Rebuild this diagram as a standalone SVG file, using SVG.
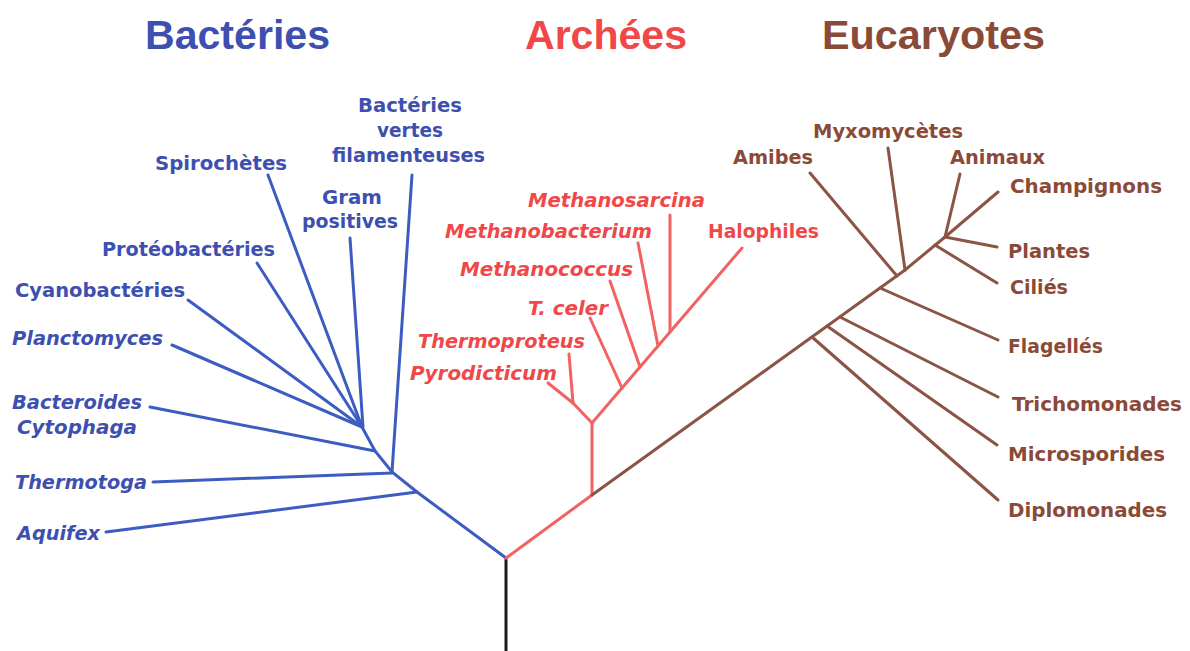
<svg xmlns="http://www.w3.org/2000/svg" width="1190" height="651" viewBox="0 0 1190 651">
<style>
.title{font-family:"Liberation Sans",Arial,sans-serif;font-weight:bold;font-size:40px}
.lbl{font-family:"DejaVu Sans",Verdana,sans-serif;font-weight:bold;font-size:20px}
.it{font-style:italic}
.b{fill:#3d50b0}
.r{fill:#f04848}
.e{fill:#8b4a38}
.lb{stroke:#3d5cc2;stroke-width:3;fill:none;stroke-linecap:round}
.lr{stroke:#f26262;stroke-width:3;fill:none;stroke-linecap:round}
.le{stroke:#8b5444;stroke-width:3;fill:none;stroke-linecap:round}
</style>
<rect width="1190" height="651" fill="#ffffff"/>

<g id="titles">
<text id="t-bacteries" class="title b" x="145" y="49" textLength="185" lengthAdjust="spacingAndGlyphs">Bactéries</text>
<text id="t-archees" class="title r" x="525" y="49" textLength="162" lengthAdjust="spacingAndGlyphs">Archées</text>
<text id="t-eucaryotes" class="title e" x="822" y="49" textLength="223" lengthAdjust="spacingAndGlyphs">Eucaryotes</text>
</g>

<g id="connectors">
<line x1="506" y1="558" x2="506" y2="651" stroke="#1a1a1a" stroke-width="3"/>
<!-- Bacteria -->
<polyline class="lb" points="506,558 417,492 392,472 375,451 362,427"/>
<line class="lb" x1="106" y1="532" x2="417" y2="492"/>
<line class="lb" x1="153" y1="482" x2="392" y2="473"/>
<line class="lb" x1="150" y1="407" x2="375" y2="451"/>
<line class="lb" x1="172" y1="345" x2="362" y2="427"/>
<line class="lb" x1="188" y1="300" x2="362" y2="427"/>
<line class="lb" x1="257" y1="263" x2="362" y2="427"/>
<line class="lb" x1="268" y1="175" x2="362" y2="427"/>
<line class="lb" x1="350" y1="238" x2="363" y2="427"/>
<line class="lb" x1="412" y1="175" x2="392" y2="472"/>
<!-- Archaea -->
<line class="lr" x1="506" y1="558" x2="592" y2="495"/>
<line class="lr" x1="592" y1="495" x2="592" y2="423"/>
<line class="lr" x1="592" y1="423" x2="742" y2="248"/>
<line class="lr" x1="592" y1="423" x2="573" y2="403"/>
<line class="lr" x1="573" y1="403" x2="548" y2="383"/>
<line class="lr" x1="573" y1="403" x2="569" y2="354"/>
<line class="lr" x1="622" y1="388" x2="590" y2="318"/>
<line class="lr" x1="640" y1="367" x2="610" y2="281"/>
<line class="lr" x1="658" y1="346" x2="638" y2="243"/>
<line class="lr" x1="670" y1="332" x2="670" y2="215"/>
<!-- Eukaryotes -->
<polyline class="le" points="592,495 905,270 945,237 998,192"/>
<line class="le" x1="812" y1="337" x2="998" y2="500"/>
<line class="le" x1="827" y1="326" x2="997" y2="445"/>
<line class="le" x1="840" y1="317" x2="998" y2="397"/>
<line class="le" x1="880" y1="288" x2="998" y2="340"/>
<line class="le" x1="897" y1="276" x2="810" y2="173"/>
<line class="le" x1="905" y1="270" x2="888" y2="148"/>
<line class="le" x1="935" y1="245" x2="997" y2="283"/>
<line class="le" x1="945" y1="237" x2="997" y2="247"/>
<line class="le" x1="945" y1="237" x2="960" y2="174"/>
</g>

<g id="n-aquifex"><text class="lbl it b" x="17" y="540" textLength="83" lengthAdjust="spacingAndGlyphs">Aquifex</text></g>
<g id="n-thermotoga"><text class="lbl it b" x="15" y="489" textLength="132" lengthAdjust="spacingAndGlyphs">Thermotoga</text></g>
<g id="n-bacteroides"><text class="lbl it b" x="12" y="409" textLength="130" lengthAdjust="spacingAndGlyphs">Bacteroides</text><text class="lbl it b" x="17" y="434" textLength="120" lengthAdjust="spacingAndGlyphs">Cytophaga</text></g>
<g id="n-planctomyces"><text class="lbl it b" x="12" y="345" textLength="151" lengthAdjust="spacingAndGlyphs">Planctomyces</text></g>
<g id="n-cyanobacteries"><text class="lbl b" x="15" y="297" textLength="170" lengthAdjust="spacingAndGlyphs">Cyanobactéries</text></g>
<g id="n-proteobacteries"><text class="lbl b" x="102" y="256" textLength="173" lengthAdjust="spacingAndGlyphs">Protéobactéries</text></g>
<g id="n-spirochetes"><text class="lbl b" x="155" y="170" textLength="132" lengthAdjust="spacingAndGlyphs">Spirochètes</text></g>
<g id="n-gram"><text class="lbl b" x="322" y="204" textLength="60" lengthAdjust="spacingAndGlyphs">Gram</text><text class="lbl b" x="302" y="228" textLength="96" lengthAdjust="spacingAndGlyphs">positives</text></g>
<g id="n-vertes"><text class="lbl b" x="358" y="112" textLength="104" lengthAdjust="spacingAndGlyphs">Bactéries</text><text class="lbl b" x="377" y="137" textLength="66" lengthAdjust="spacingAndGlyphs">vertes</text><text class="lbl b" x="332" y="162" textLength="153" lengthAdjust="spacingAndGlyphs">filamenteuses</text></g>

<g id="n-methanosarcina"><text class="lbl it r" x="528" y="207" textLength="177" lengthAdjust="spacingAndGlyphs">Methanosarcina</text></g>
<g id="n-methanobacterium"><text class="lbl it r" x="445" y="238" textLength="207" lengthAdjust="spacingAndGlyphs">Methanobacterium</text></g>
<g id="n-methanococcus"><text class="lbl it r" x="460" y="276" textLength="173" lengthAdjust="spacingAndGlyphs">Methanococcus</text></g>
<g id="n-tceler"><text class="lbl it r" x="528" y="315" textLength="80" lengthAdjust="spacingAndGlyphs">T. celer</text></g>
<g id="n-thermoproteus"><text class="lbl it r" x="418" y="348" textLength="167" lengthAdjust="spacingAndGlyphs">Thermoproteus</text></g>
<g id="n-pyrodicticum"><text class="lbl it r" x="410" y="380" textLength="147" lengthAdjust="spacingAndGlyphs">Pyrodicticum</text></g>
<g id="n-halophiles"><text class="lbl r" x="708" y="238" textLength="111" lengthAdjust="spacingAndGlyphs">Halophiles</text></g>

<g id="n-myxomycetes"><text class="lbl e" x="813" y="138" textLength="150" lengthAdjust="spacingAndGlyphs">Myxomycètes</text></g>
<g id="n-amibes"><text class="lbl e" x="733" y="164" textLength="80" lengthAdjust="spacingAndGlyphs">Amibes</text></g>
<g id="n-animaux"><text class="lbl e" x="950" y="164" textLength="95" lengthAdjust="spacingAndGlyphs">Animaux</text></g>
<g id="n-champignons"><text class="lbl e" x="1010" y="193" textLength="152" lengthAdjust="spacingAndGlyphs">Champignons</text></g>
<g id="n-plantes"><text class="lbl e" x="1008" y="258" textLength="82" lengthAdjust="spacingAndGlyphs">Plantes</text></g>
<g id="n-cilies"><text class="lbl e" x="1010" y="294" textLength="58" lengthAdjust="spacingAndGlyphs">Ciliés</text></g>
<g id="n-flagelles"><text class="lbl e" x="1008" y="353" textLength="95" lengthAdjust="spacingAndGlyphs">Flagellés</text></g>
<g id="n-trichomonades"><text class="lbl e" x="1012" y="411" textLength="170" lengthAdjust="spacingAndGlyphs">Trichomonades</text></g>
<g id="n-microsporides"><text class="lbl e" x="1008" y="461" textLength="157" lengthAdjust="spacingAndGlyphs">Microsporides</text></g>
<g id="n-diplomonades"><text class="lbl e" x="1008" y="517" textLength="159" lengthAdjust="spacingAndGlyphs">Diplomonades</text></g>
</svg>
